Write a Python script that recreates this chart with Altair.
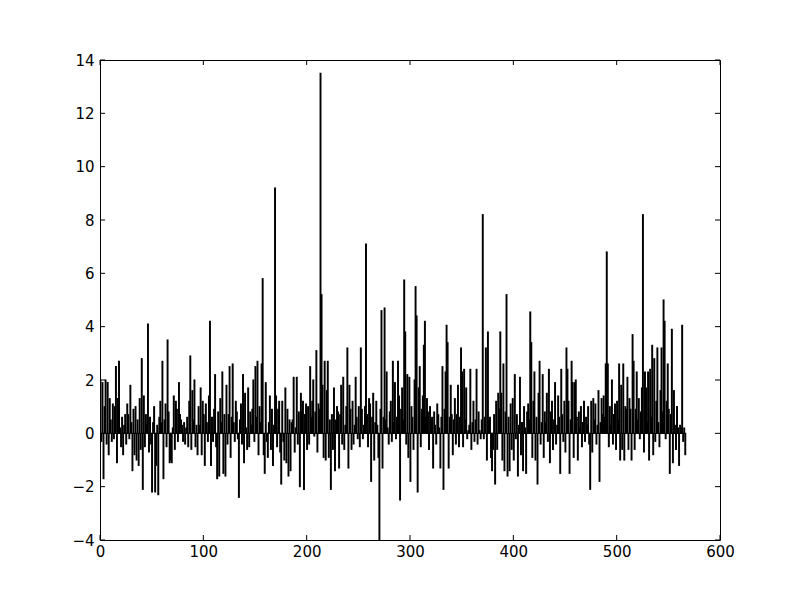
import altair as alt
import pandas as pd

values = [
    2.0, -0.3, 1.9, -1.7, 1.0, 2.0, -0.4, 1.9, -0.8, 1.3,
    0.5, -0.3, 1.1, -0.2, 1.0, 2.5, -1.1, 1.3, 2.7, 0.2,
    -0.5, 0.6, -0.8, 0.3, 0.7, -0.4, 1.1, 0.7, -0.2, 1.8,
    0.4, -1.4, 0.9, -0.8, 1.0, -1.0, 0.5, -1.2, 1.3, -0.6,
    2.8, -2.1, 1.4, -0.5, 0.7, 0.3, 4.1, -0.7, 0.6, -0.4,
    -2.2, 0.4, 1.0, -2.2, -1.2, 0.3, -2.3, 0.6, 1.2, 0.4,
    2.7, -1.7, 0.5, 1.1, -0.5, 3.5, 0.8, -1.1, -1.0, -1.1,
    0.2, 1.4, -0.6, 1.2, 0.9, -0.3, 1.9, 0.7, 0.5, 0.3,
    -0.3, 0.4, -0.4, 0.2, 0.6, -0.5, 1.2, 2.9, -0.6, 1.6,
    0.5, 2.0, -0.5, 0.3, -0.8, 1.0, 0.3, 1.7, -0.8, 1.2,
    0.7, -1.2, 1.1, 0.4, -0.3, 1.4, 4.2, -1.2, 0.6, -0.3,
    0.9, 2.2, -0.5, -1.7, 0.8, -1.6, 1.3, 0.4, 2.3, -1.5,
    0.7, -1.6, 1.8, -0.4, 0.7, 2.5, -0.9, 0.6, 2.6, 0.4,
    -0.3, 1.2, 0.8, -0.2, -2.4, 0.5, 1.1, -0.4, 2.2, -1.1,
    1.5, 0.2, -0.6, 1.7, -0.5, 0.8, 0.3, 0.9, 2.0, -0.3,
    2.5, 0.6, 2.7, -0.8, 1.0, 0.4, 2.6, 5.8, -0.8, -1.5,
    1.9, -0.3, -0.9, 0.4, 1.4, -0.6, 0.9, -1.2, 0.3, 9.2,
    1.4, -0.5, 0.9, 1.2, -0.7, -1.9, 1.2, -0.3, -1.0, 1.7,
    -1.1, 0.9, -1.6, 0.5, -1.4, 0.4, 0.5, 2.1, -0.7, 0.2,
    2.1, -0.4, 0.8, -2.0, 1.5, 0.8, 1.2, -2.1, 0.7, 1.1,
    -0.6, 1.0, -0.4, 2.5, 0.6, 1.2, 2.0, -0.1, 0.8, 3.1,
    -0.7, 1.1, 0.9, 13.5, 5.2, 1.8, -0.9, 2.7, -1.0, 1.6,
    2.7, -0.9, 0.5, -2.1, 0.7, -0.6, 1.7, -1.4, 0.5, 1.0,
    0.8, -1.3, 0.7, 1.8, -0.4, 2.1, -0.6, 0.3, 1.0, 3.2,
    -1.3, 1.8, 0.9, -0.6, 1.2, -0.4, 0.3, 2.1, 0.6, -0.2,
    1.0, -0.5, 3.2, 0.9, -0.2, 0.3, 1.0, 7.1, 0.7, -0.5,
    1.3, 1.1, -1.8, 0.6, 1.5, -1.0, 0.4, 1.2, 0.3, -0.9,
    -4.5, 0.9, 4.6, -1.3, 0.6, 4.7, 0.5, 2.3, 0.2, -0.4,
    0.8, 1.2, -0.3, 2.7, 0.4, 1.9, -0.2, 0.6, 2.7, 1.4,
    -2.5, 0.9, 1.7, 0.5, 5.75, 3.8, -0.4, 2.2, -0.9, 2.1,
    -1.8, 1.0, 0.6, -0.6, 2.0, 5.5, 4.4, -2.2, 1.7, 2.5,
    -0.5, 0.9, 1.4, 3.3, 4.2, 0.6, 1.3, 0.8, -0.6, 1.0,
    0.5, 0.6, -1.3, 0.8, 0.3, -0.4, 1.1, 0.7, 0.2, -1.3,
    0.6, 2.5, -2.1, 0.9, 2.3, 4.05, 3.4, -1.3, 0.6, 1.8,
    0.7, -0.8, 0.5, 1.3, -0.4, 0.7, 1.8, -0.5, 0.6, 3.2,
    2.3, -0.5, 2.4, 0.5, 1.7, -0.2, 0.1, 0.3, 2.4, -0.6,
    0.4, 1.2, -0.3, 0.5, 2.4, -0.4, 0.8, 0.1, -0.2, 0.5,
    8.2, -0.2, 0.6, 3.2, -1.0, 3.8, 0.5, 0.6, -0.9, -1.4,
    -0.6, 0.7, -1.9, 1.2, -0.6, 1.5, 0.9, 3.8, 1.5, -1.0,
    2.6, -1.4, 0.8, 5.2, -1.6, 0.6, -1.4, 1.1, -0.6, 1.3,
    -1.0, 2.2, -0.2, 0.7, -1.6, 0.3, 2.1, -0.8, 0.4, -1.4,
    1.0, 0.2, -1.5, 0.8, 1.1, 0.5, 4.55, 3.4, -0.9, 1.2,
    2.3, -1.0, 0.6, -1.9, 1.5, 2.7, -0.4, 0.4, 2.2, -0.9,
    0.8, 0.4, 1.5, -0.3, 2.4, -1.1, 0.8, 1.2, -0.6, 0.5,
    1.9, -0.4, 0.3, 1.4, 0.6, -1.5, 2.4, 0.7, -0.3, 1.2,
    -0.7, 3.2, 2.4, 1.2, -1.5, 0.5, 2.7, 1.9, -0.9, 1.9,
    2.0, 0.6, -1.0, 0.8, 0.2, 1.0, -0.5, 0.4, 1.2, -0.3,
    0.6, 0.3, 1.0, -0.4, -2.1, 1.2, -0.7, 1.3, 0.5, 1.1,
    -0.4, 0.3, 1.6, -1.8, 0.4, 1.3, 0.7, 1.4, 0.6, 2.6,
    6.8, 2.6, -0.5, 1.0, 0.3, 2.0, -0.4, 0.7, 1.1, -0.6,
    1.2, 0.5, 2.6, -1.0, 1.8, -0.6, 2.6, -1.0, 1.0, 0.9,
    2.1, -0.6, 1.3, 0.9, -1.0, 3.7, 2.7, -0.6, 0.9, 2.3,
    0.5, 1.3, -0.2, 0.8, 1.7, 8.2, -0.7, 2.3, 1.7, 0.4,
    2.3, -1.0, 2.4, 0.6, 3.3, -0.8, 2.8, -0.3, 1.2, 3.2,
    0.4, -0.5, 1.6, 3.2, 0.8, 5.0, 4.2, -0.2, 1.2, 2.6,
    0.9, -1.5, 0.7, 3.9, -1.1, 1.6, 0.3, -0.6, 1.0, 0.2,
    -1.2, 0.3, 0.2, 4.05, -0.3, 0.2, -0.8,
]
bar_width = 0.8
x_ticks = [0, 100, 200, 300, 400, 500, 600]
y_ticks = [-4, -2, 0, 2, 4, 6, 8, 10, 12, 14]

df = pd.DataFrame({"i": list(range(len(values))), "v": values})
df["i2"] = df["i"] + bar_width
df["base"] = 0.0

xs = alt.Scale(domain=[0, 600], nice=False, zero=False)
ys = alt.Scale(domain=[-4, 14], nice=False, zero=False)

lab = dict(labelFont="DejaVu Sans", labelFontSize=15, labelColor="black",
           labelFlush=False, labelOverlap=False,
           ticks=False, domain=False, grid=False, title=None, format="d")
x_axis = alt.Axis(values=x_ticks, labelPadding=4, **lab)
y_axis = alt.Axis(values=y_ticks, labelPadding=6, **lab)

bars = alt.Chart(df).mark_rect(color="black", stroke="black", strokeWidth=1.1, clip=True).encode(
    x=alt.X("i:Q", scale=xs, axis=x_axis),
    x2="i2:Q",
    y=alt.Y("v:Q", scale=ys, axis=y_axis),
    y2="base:Q",
)

xt = pd.DataFrame({"t": x_ticks})
yt = pd.DataFrame({"t": y_ticks})
tick_style = dict(color="black", strokeWidth=1)

xb = alt.Chart(xt).mark_rule(**tick_style).encode(
    x=alt.X("t:Q", scale=xs, axis=x_axis), y=alt.value(480), y2=alt.value(475))
xtp = alt.Chart(xt).mark_rule(**tick_style).encode(
    x=alt.X("t:Q", scale=xs, axis=x_axis), y=alt.value(0), y2=alt.value(5))
yl = alt.Chart(yt).mark_rule(**tick_style).encode(
    y=alt.Y("t:Q", scale=ys, axis=y_axis), x=alt.value(0), x2=alt.value(5))
yr = alt.Chart(yt).mark_rule(**tick_style).encode(
    y=alt.Y("t:Q", scale=ys, axis=y_axis), x=alt.value(620), x2=alt.value(615))

chart = alt.layer(bars, xb, xtp, yl, yr).properties(
    width=620, height=480,
    autosize=alt.AutoSizeParams(type="none"),
    padding={"left": 92, "top": 52, "right": 72, "bottom": 52},
    background="white",
).configure_view(stroke="black", strokeWidth=1)

chart.save("out.html", embed_options={"renderer": "svg", "actions": False})
